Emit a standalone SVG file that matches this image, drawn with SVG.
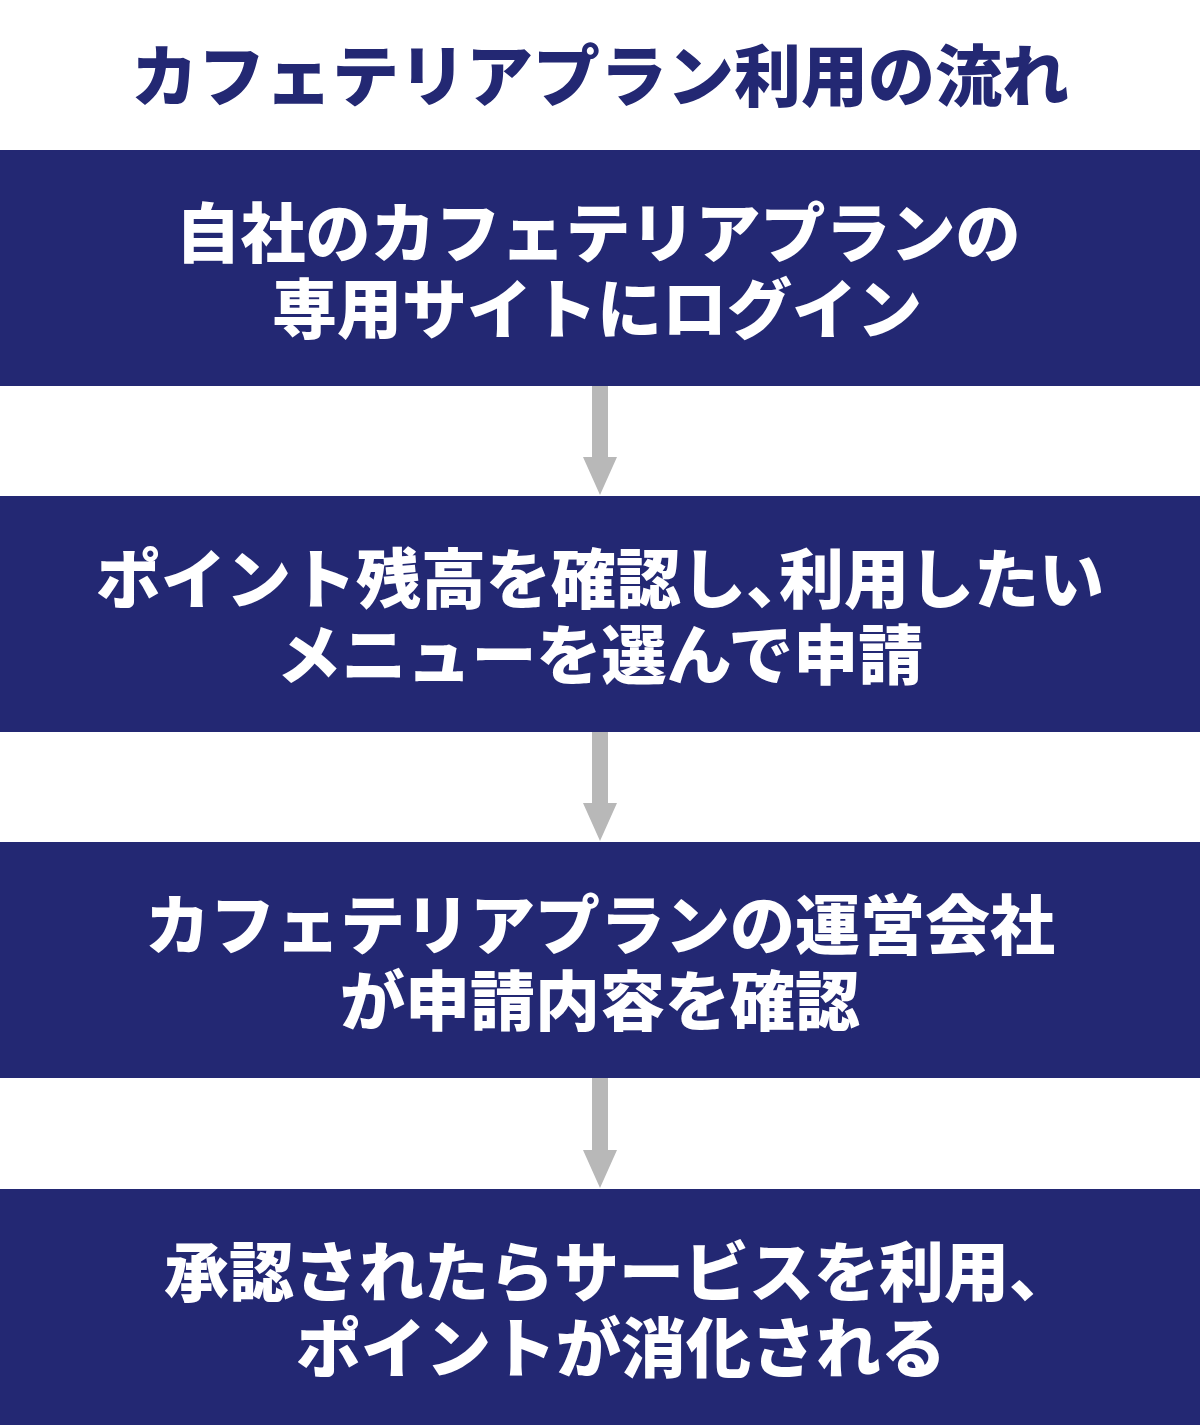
<svg xmlns="http://www.w3.org/2000/svg" width="1200" height="1425" viewBox="0 0 1200 1425">
<style>
.box{fill:#232873}
.t{font-family:"Noto Sans CJK JP","Noto Sans CJK SC",sans-serif;font-weight:900;text-anchor:middle}
.bt{fill:#ffffff;font-size:65px}
.title{fill:#232873;font-size:67px}
.arr{fill:#b8b8b8}
</style>
<rect width="1200" height="1425" fill="#ffffff"/>
<g id="title"><text class="t title" x="600" y="101">カフェテリアプラン利用の流れ</text></g>
<g id="step1">
<rect class="box" x="0" y="150" width="1200" height="236"/>
<text class="t bt" x="598" y="257">自社のカフェテリアプランの</text>
<text class="t bt" x="597" y="333">専用サイトにログイン</text>
</g>
<g id="step2">
<rect class="box" x="0" y="496" width="1200" height="236"/>
<text class="t bt" x="600" y="603">ポイント残高を確認し、<tspan dx="-32">利用したい</tspan></text>
<text class="t bt" x="600" y="679">メニューを選んで申請</text>
</g>
<g id="step3">
<rect class="box" x="0" y="842" width="1200" height="236"/>
<text class="t bt" x="600" y="949">カフェテリアプランの運営会社</text>
<text class="t bt" x="600" y="1025">が申請内容を確認</text>
</g>
<g id="step4">
<rect class="box" x="0" y="1189" width="1200" height="236"/>
<text class="t bt" x="619" y="1296">承認されたらサービスを利用、</text>
<text class="t bt" x="621" y="1372">ポイントが消化される</text>
</g>
<g id="connectors">
<path class="arr" d="M592 386H608V457H617L600 495L583 457H592Z"/>
<path class="arr" d="M592 732H608V803H617L600 841L583 803H592Z"/>
<path class="arr" d="M592 1078H608V1150H617L600 1188L583 1150H592Z"/>
</g>
</svg>
